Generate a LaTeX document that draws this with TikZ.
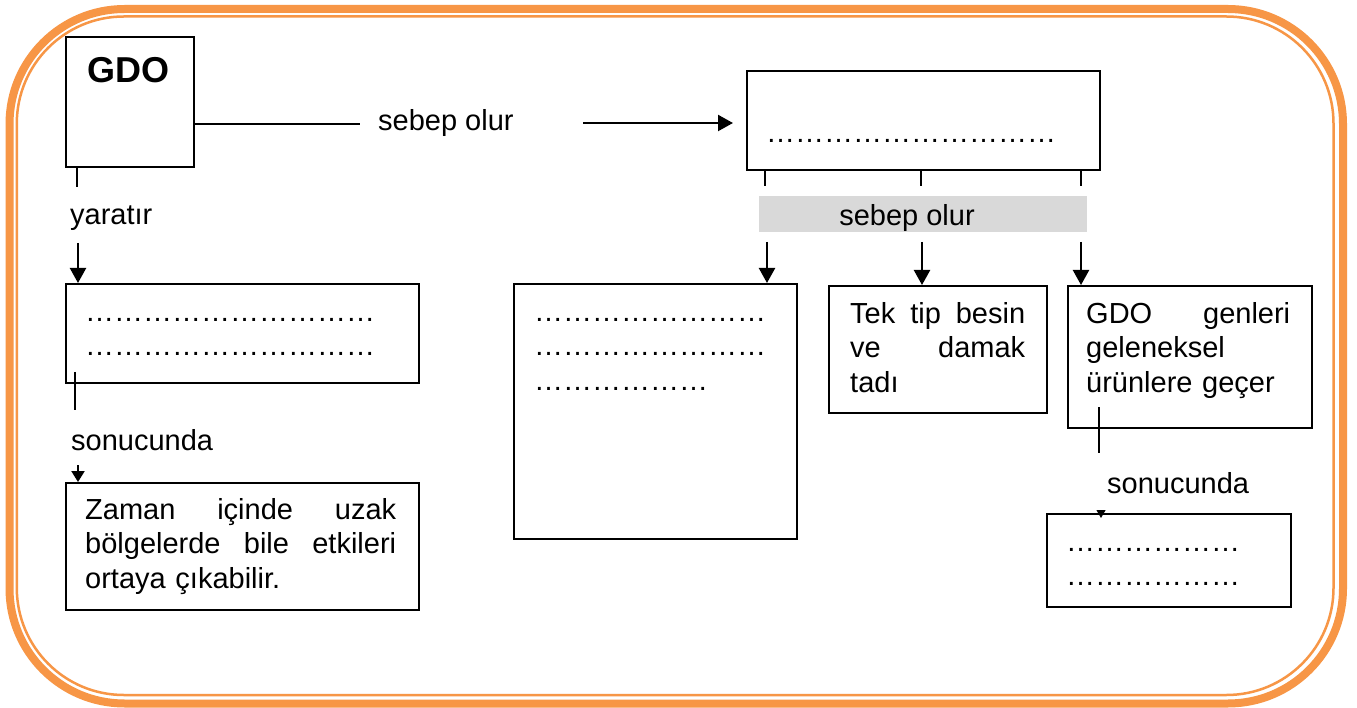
\documentclass[tikz,border=0pt]{standalone}
\usepackage{fontspec}
\setmainfont{Liberation Sans}
\usetikzlibrary{arrows.meta}
\definecolor{frameorange}{HTML}{F79646}
\definecolor{barg}{HTML}{D9D9D9}
% a run of n ellipsis characters
\newcommand{\dotrun}[1]{\foreach \k in {1,...,#1}{…}}
\tikzset{
  every node/.style={inner sep=0pt, font=\fontsize{29}{34.5}\selectfont},
  box/.style={draw=black, line width=2pt, rectangle, anchor=north west},
  conn/.style={draw=black, line width=2.2pt},
  arr/.style={-{Triangle[length=15pt,width=16pt]}},
  smallarr/.style={-{Triangle[length=11pt,width=13pt]}},
  para/.style={anchor=north west, align=left},
}
\begin{document}
\begin{tikzpicture}[x=1pt, y=-1pt]
\useasboundingbox (0,0) rectangle (1357,708);
\fill[white] (0,0) rectangle (1357,708);

% double orange frame
\draw[frameorange, line width=8pt, rounded corners=115pt] (9.5,9) rectangle (1343,703.5);
\draw[frameorange, line width=2.5pt, rounded corners=107pt] (16.8,16.5) rectangle (1333.5,695);

% boxes
\node[box, minimum width=128pt, minimum height=130pt] (gdo) at (65,36) {};
\node[box, minimum width=353pt, minimum height=99pt] (topbox) at (746,70) {};
\node[box, minimum width=353pt, minimum height=99pt] (boxA) at (65,283) {};
\node[box, minimum width=283pt, minimum height=255pt] (boxB) at (513,283) {};
\node[box, minimum width=218pt, minimum height=127pt] (tek) at (828,285) {};
\node[box, minimum width=244pt, minimum height=142pt] (gen) at (1067,285) {};
\node[box, minimum width=244pt, minimum height=93pt] (res) at (1046,513) {};
\node[box, minimum width=353pt, minimum height=127pt] (zaman) at (65,482) {};
\node[fill=barg, minimum width=328pt, minimum height=36pt, anchor=north west] (bar) at (759,196) {};

% box texts
\node[anchor=base, font=\fontsize{36}{40}\selectfont\bfseries] (gdotxt) at (128,83) {GDO};
\node[para] (dotsTop) at (766,118) {\rule{0pt}{24pt}\dotrun{10}};
\node[para] (dotsA) at (85,297) {\rule{0pt}{24pt}\dotrun{10}\\\dotrun{10}};
\node[para] (dotsB) at (534,297) {\rule{0pt}{24pt}\dotrun{8}\\\dotrun{8}\\\dotrun{6}};
\node[para] (dotsR) at (1066,527) {\rule{0pt}{24pt}\dotrun{6}\\\dotrun{6}};
\node[para, text width=175pt] (tektxt) at (850,299)
  {\rule{0pt}{24pt}Tek\hfill tip\hfill besin\\ ve\hfill damak\\ tadı};
\node[para, text width=204pt] (gentxt) at (1086,299)
  {\rule{0pt}{24pt}GDO\hfill genleri\\ geleneksel\\ ürünlere geçer};
\node[para, text width=311pt] (zamantxt) at (85,495)
  {\rule{0pt}{24pt}Zaman\hfill içinde\hfill uzak\\ bölgelerde\hfill bile\hfill etkileri\\ ortaya çıkabilir.};

% GDO -> top box
\coordinate (c1) at (360,124);
\draw[conn] (gdo.east |- c1) -- (c1);
\node[anchor=base west] (lab1) at (378,131) {sebep olur};
\coordinate (c2) at (583,123);
\draw[conn, arr, shorten >=13pt] (c2) -- (c2 -| topbox.west);

% GDO -> box A -> Zaman box
\draw[conn] ([xshift=12pt]gdo.south west) -- ++(0,19);
\node[anchor=base west] (yar) at (70,225) {yaratır};
\coordinate (c3) at (78,243);
\draw[conn, arr] (c3) -- (c3 |- boxA.north);
\coordinate (c4) at (75,372);
\draw[conn] (c4) -- ++(0,38);
\node[anchor=base west] (son1) at (71,450) {sonucunda};
\coordinate (c5) at (78,465);
\draw[conn, smallarr] (c5) -- (c5 |- zaman.north);

% top box -> three boxes
\draw[conn] ([xshift=19pt]topbox.south west) -- ++(0,15);
\draw[conn] ([xshift=175pt]topbox.south west) -- ++(0,15);
\draw[conn] ([xshift=335pt]topbox.south west) -- ++(0,15);
\node[anchor=base] (bartxt) at (907,226) {sebep olur};
\coordinate (d1) at (767,242);
\coordinate (d2) at (922,242);
\coordinate (d3) at (1081,242);
\draw[conn, arr] (d1) -- (d1 |- boxB.north);
\draw[conn, arr] (d2) -- (d2 |- tek.north);
\draw[conn, arr] (d3) -- (d3 |- gen.north);

% gen box -> result box
\coordinate (c6) at (1099,407);
\draw[conn] (c6) -- ++(0,46);
\node[anchor=base west] (son2) at (1107,493) {sonucunda};
\coordinate (c7) at (1101,510);
\draw[line width=1pt, -{Triangle[length=8pt,width=9pt]}] (c7) -- (c7 |- res.north) -- ++(0,5);
\end{tikzpicture}
\end{document}
